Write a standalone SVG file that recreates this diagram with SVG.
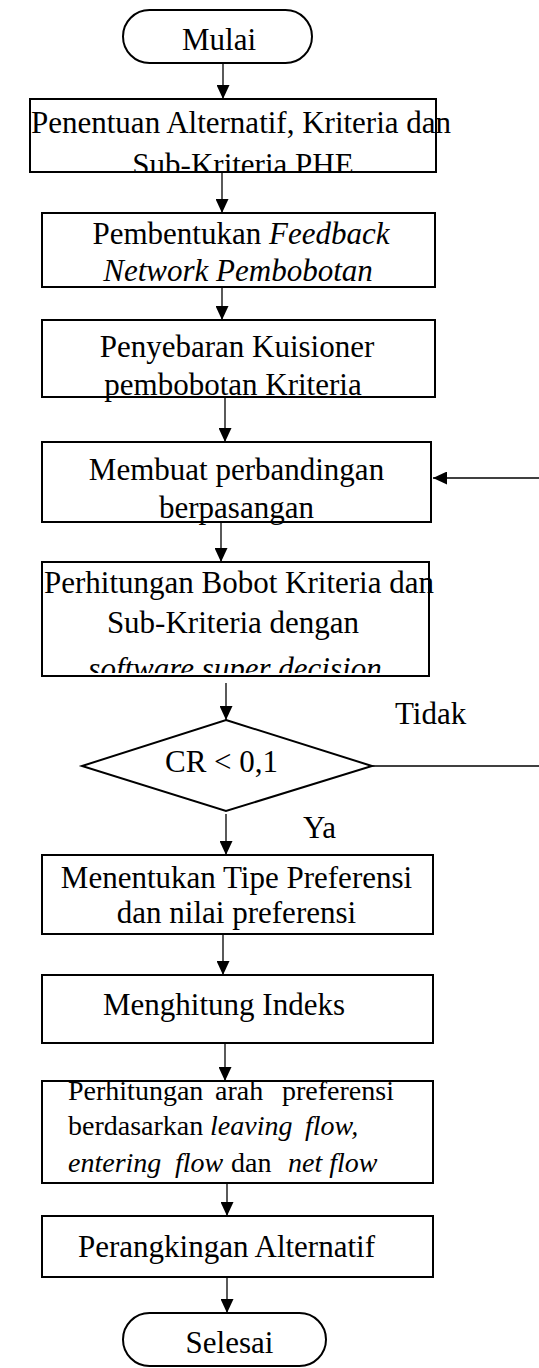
<svg xmlns="http://www.w3.org/2000/svg" width="539" height="1368" viewBox="0 0 539 1368">
<style>
.b{fill:#fff;stroke:#000;stroke-width:2}
.t{font-family:"Liberation Serif","Times New Roman",serif;font-size:31px;fill:#000}
.s{font-family:"Liberation Serif","Times New Roman",serif;font-size:28px;fill:#000}
.c{stroke:#000;stroke-width:1.3;fill:none}
.i{font-style:italic}
</style>
<defs>
<marker id="ah" viewBox="0 0 14 13" refX="14" refY="6.5" markerWidth="14" markerHeight="13" markerUnits="userSpaceOnUse" orient="auto"><path d="M0,0 L14,6.5 L0,13 Z" fill="#000"/></marker>
<clipPath id="k1"><rect x="0" y="99" width="539" height="73"/></clipPath>
<clipPath id="k5"><rect x="0" y="562" width="539" height="111"/></clipPath>
</defs>
<rect width="539" height="1368" fill="#fff"/>
<g id="connectors">
<line class="c" x1="223" y1="63" x2="223" y2="99" marker-end="url(#ah)"/>
<line class="c" x1="222" y1="172" x2="222" y2="213" marker-end="url(#ah)"/>
<line class="c" x1="222" y1="287" x2="222" y2="320" marker-end="url(#ah)"/>
<line class="c" x1="225" y1="397" x2="225" y2="442" marker-end="url(#ah)"/>
<line class="c" x1="221" y1="522" x2="221" y2="562" marker-end="url(#ah)"/>
<line class="c" x1="226" y1="683" x2="226" y2="720" marker-end="url(#ah)"/>
<line class="c" x1="226" y1="814" x2="226" y2="855" marker-end="url(#ah)"/>
<line class="c" x1="223" y1="934" x2="223" y2="975" marker-end="url(#ah)"/>
<line class="c" x1="225" y1="1043" x2="225" y2="1081" marker-end="url(#ah)"/>
<line class="c" x1="227" y1="1183" x2="227" y2="1216" marker-end="url(#ah)"/>
<line class="c" x1="227" y1="1277" x2="227" y2="1313" marker-end="url(#ah)"/>
<line class="c" x1="372" y1="766" x2="539" y2="766"/>
<line class="c" x1="539" y1="478" x2="433" y2="478" marker-end="url(#ah)"/>
<text class="t" x="395" y="724">Tidak</text>
<text class="t" x="303" y="838">Ya</text>
</g>
<g id="mulai">
<rect class="b" x="123" y="10" width="189" height="53" rx="26.5"/>
<text class="t" x="219" y="50" text-anchor="middle">Mulai</text>
</g>
<g id="n1">
<rect class="b" x="30" y="99" width="406" height="73"/>
<g clip-path="url(#k1)">
<text class="t" x="31" y="133">Penentuan Alternatif, Kriteria dan</text>
<text class="t" x="243" y="175" text-anchor="middle">Sub-Kriteria PHE</text>
</g>
</g>
<g id="n2">
<rect class="b" x="42" y="213" width="393" height="74"/>
<text class="t" x="241" y="244" text-anchor="middle">Pembentukan <tspan class="i">Feedback</tspan></text>
<text class="t i" x="238" y="281" text-anchor="middle">Network Pembobotan</text>
</g>
<g id="n3">
<rect class="b" x="42" y="320" width="393" height="77"/>
<text class="t" x="237" y="357" text-anchor="middle">Penyebaran Kuisioner</text>
<text class="t" x="233" y="395" text-anchor="middle">pembobotan Kriteria</text>
</g>
<g id="n4">
<rect class="b" x="42" y="442" width="389" height="80"/>
<text class="t" x="236.5" y="480" text-anchor="middle">Membuat perbandingan</text>
<text class="t" x="236.5" y="518" text-anchor="middle">berpasangan</text>
</g>
<g id="n5">
<rect class="b" x="42" y="562" width="387" height="114"/>
<g clip-path="url(#k5)">
<text class="t" x="44" y="593">Perhitungan Bobot Kriteria dan</text>
<text class="t" x="233" y="633" text-anchor="middle">Sub-Kriteria dengan</text>
<text class="t i" x="235" y="679" text-anchor="middle">software super decision</text>
</g>
</g>
<g id="decision">
<polygon class="b" points="226,720 372,766 226,811 82,766"/>
<text class="t" x="221.5" y="772" text-anchor="middle">CR &lt; 0,1</text>
</g>
<g id="n6">
<rect class="b" x="42" y="855" width="391" height="79"/>
<text class="t" x="236.5" y="888" text-anchor="middle">Menentukan Tipe Preferensi</text>
<text class="t" x="236.5" y="923" text-anchor="middle">dan nilai preferensi</text>
</g>
<g id="n7">
<rect class="b" x="42" y="975" width="391" height="68"/>
<text class="t" x="224" y="1015" text-anchor="middle">Menghitung Indeks</text>
</g>
<g id="n8">
<rect class="b" x="42" y="1081" width="391" height="102"/>
<text class="s" y="1100"><tspan x="68">Perhitungan</tspan><tspan x="215">arah</tspan><tspan x="282">preferensi</tspan></text>
<text class="s" y="1135"><tspan x="68">berdasarkan</tspan><tspan class="i" x="210">leaving</tspan><tspan class="i" x="305">flow,</tspan></text>
<text class="s" y="1172"><tspan class="i" x="68">entering</tspan><tspan class="i" x="175">flow</tspan><tspan x="231">dan</tspan><tspan class="i" x="288">net flow</tspan></text>
</g>
<g id="n9">
<rect class="b" x="42" y="1216" width="391" height="61"/>
<text class="t" x="226.5" y="1257" text-anchor="middle">Perangkingan Alternatif</text>
</g>
<g id="selesai">
<rect class="b" x="123" y="1313" width="203" height="53" rx="26.5"/>
<text class="t" x="229.5" y="1353" text-anchor="middle">Selesai</text>
</g>
</svg>
